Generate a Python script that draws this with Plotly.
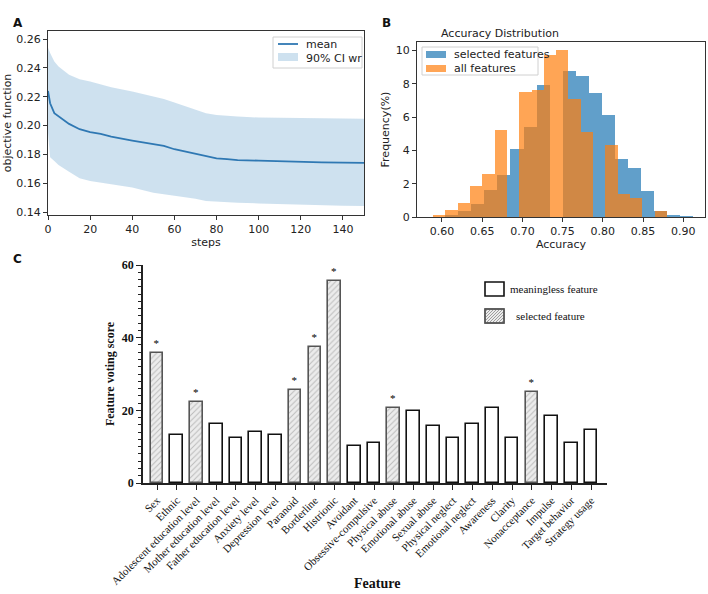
import plotly.graph_objects as go

# ---------- Panel A data ----------
steps = [0, 1, 3, 5, 10, 15, 20, 25, 30, 40, 50, 55, 60, 65, 70, 75, 80, 85, 90, 100, 110, 120, 130, 140, 150]
obj_mean = [0.224, 0.2155, 0.2086, 0.2063, 0.2012, 0.1975, 0.1954, 0.1942, 0.1924, 0.1896, 0.1873, 0.1859,
            0.1836, 0.1819, 0.1803, 0.1785, 0.1773, 0.1768, 0.1761, 0.1757, 0.1752, 0.1750, 0.1745, 0.1743, 0.1742]
ci_upper = [0.254, 0.2503, 0.2445, 0.241, 0.2352, 0.2322, 0.2306, 0.2285, 0.2266, 0.2236, 0.2202, 0.2185,
            0.216, 0.2135, 0.2109, 0.2086, 0.2074, 0.2068, 0.2063, 0.2056, 0.2053, 0.2051, 0.2050, 0.2049, 0.2048]
ci_lower = [0.195, 0.178, 0.1755, 0.1727, 0.168, 0.1634, 0.1615, 0.1604, 0.1592, 0.1571, 0.1535, 0.1525,
            0.1512, 0.1502, 0.1493, 0.1477, 0.1472, 0.1468, 0.1465, 0.146, 0.1455, 0.1451, 0.1447, 0.1444, 0.1443]

# ---------- Panel B data ----------
sel_start, sel_width = 0.588, 0.0162
sel_freq = [0.0, 0.1, 0.35, 0.8, 1.6, 2.5, 4.1, 5.4, 7.9, 0.0,
            8.75, 8.45, 7.45, 6.15, 3.5, 2.95, 1.55, 0.35, 0.15, 0.05]
all_start, all_width = 0.589, 0.0153
all_freq = [0.1, 0.4, 0.85, 1.85, 2.6, 5.25, 0.0, 7.5, 7.6, 9.75,
            10.0, 7.1, 5.1, 0.0, 4.35, 1.4, 1.15, 0.0, 0.35]

# ---------- Panel C data ----------
features = ["Sex", "Ethnic", "Adolescent education level", "Mother education level", "Father education level",
            "Anxiety level", "Depression level", "Paranoid", "Borderline", "Histrionic", "Avoidant",
            "Obsessive-compulsive", "Physical abuse", "Emotional abuse", "Sexual abuse", "Physical neglect",
            "Emotional neglect", "Awareness", "Clarity", "Nonacceptance", "Impulse", "Target behavior",
            "Strategy usage"]
scores = [35.9, 13.3, 22.3, 16.2, 12.4, 14.0, 13.1, 25.6, 37.4, 55.5, 10.3, 11.1, 20.7,
          19.8, 15.6, 12.5, 16.2, 20.6, 12.5, 25.1, 18.5, 11.1, 14.7]
selected = ["Sex", "Adolescent education level", "Paranoid", "Borderline", "Histrionic",
            "Physical abuse", "Nonacceptance"]

W, H = 708, 594
def px(x): return x / W
def py(y): return 1 - y / H

fig = go.Figure()

sans = "DejaVu Sans"
serif = "Liberation Serif"
txt = "#222222"
blue_a = "rgba(31,119,180,0.7)"
orange_a = "rgba(255,127,14,0.7)"
band = "rgba(31,119,180,0.22)"
meancol = "#2f78b3"

# Panel A
fig.add_trace(go.Scatter(x=steps, y=ci_upper, mode="lines", line=dict(width=0, color="rgba(0,0,0,0)"),
                         showlegend=False, hoverinfo="skip", xaxis="x", yaxis="y"))
fig.add_trace(go.Scatter(x=steps, y=ci_lower, mode="lines", line=dict(width=0, color="rgba(0,0,0,0)"),
                         fill="tonexty", fillcolor=band, name="90% CI wr", showlegend=False,
                         xaxis="x", yaxis="y"))
fig.add_trace(go.Scatter(x=steps, y=obj_mean, mode="lines", line=dict(width=1.8, color=meancol),
                         name="mean", showlegend=False, xaxis="x", yaxis="y"))

# Panel B
sel_x = [sel_start + sel_width * (i + 0.5) for i in range(len(sel_freq))]
all_x = [all_start + all_width * (i + 0.5) for i in range(len(all_freq))]
fig.add_trace(go.Bar(x=sel_x, y=sel_freq, width=sel_width, name="selected features",
                     marker=dict(color="#1f77b4", line=dict(width=0)), opacity=0.7,
                     showlegend=False, xaxis="x2", yaxis="y2"))
fig.add_trace(go.Bar(x=all_x, y=all_freq, width=all_width, name="all features",
                     marker=dict(color="#ff7f0e", line=dict(width=0)), opacity=0.7,
                     showlegend=False, xaxis="x2", yaxis="y2"))

# Panel C
mx = [f for f in features if f not in selected]
my = [s for f, s in zip(features, scores) if f not in selected]
sx = [f for f in features if f in selected]
sy = [s for f, s in zip(features, scores) if f in selected]
fig.add_trace(go.Bar(x=mx, y=my, width=0.64, name="meaningless feature",
                     marker=dict(color="white", line=dict(color="#111111", width=1.6)),
                     showlegend=False, xaxis="x3", yaxis="y3"))
fig.add_trace(go.Bar(x=sx, y=sy, width=0.64, name="selected feature",
                     marker=dict(color="#e6e6e6", line=dict(color="#555555", width=1.6),
                                 pattern=dict(shape="/", fgcolor="#8a8a8a", bgcolor="#ececec",
                                              size=4, solidity=0.25)),
                     text=["*"] * len(sx), textposition="outside", cliponaxis=False,
                     outsidetextfont=dict(family=serif, size=11, color="#000000"),
                     showlegend=False, xaxis="x3", yaxis="y3"))

axA = dict(showline=True, mirror=True, linecolor="#333", linewidth=1, ticks="outside", ticklen=4,
           tickcolor="#333", showgrid=False, zeroline=False, automargin=False,
           tickfont=dict(family=sans, size=11, color=txt))

# ---- manual legends (boxes / swatches in pixel space) ----
shapes = []
annots = []
def rect(x0, y0, x1, y1, **kw):
    shapes.append(dict(type="rect", xref="paper", yref="paper", x0=px(x0), x1=px(x1), y0=py(y1), y1=py(y0), **kw))
def label(x, y, text, font, xanchor="left"):
    annots.append(dict(text=text, x=px(x), y=py(y), xref="paper", yref="paper", showarrow=False,
                       xanchor=xanchor, yanchor="middle", font=font))

fA = dict(family=sans, size=11, color=txt)
# Legend A
rect(273, 37, 362, 68, line=dict(color="#d0d0d0", width=1), fillcolor="white")
shapes.append(dict(type="line", xref="paper", yref="paper", x0=px(278), x1=px(298), y0=py(44), y1=py(44),
                   line=dict(color=meancol, width=1.8)))
label(304, 44, "mean", fA)
rect(278, 53, 298, 61, line=dict(width=0), fillcolor=band)
label(304, 58, "90% CI wr", fA)
# Legend B
rect(422, 47, 538, 75, line=dict(color="#d0d0d0", width=1), fillcolor="white")
rect(426, 51, 446, 58, line=dict(width=0), fillcolor=blue_a)
label(452, 54, "selected features", fA)
rect(426, 65, 446, 72, line=dict(width=0), fillcolor=orange_a)
label(452, 68, "all features", fA)
# Legend C
fC = dict(family=serif, size=11, color="#111")
rect(485, 282, 504, 296, line=dict(color="#111", width=1.6), fillcolor="white")
label(508, 289, "meaningless feature", fC)
rect(485, 309, 504, 323, line=dict(color="#555", width=1.4), fillcolor="#ececec")
hatch = []
for k in range(-14, 20, 3):
    xa, ya = 485 + k, 323
    xb, yb = 485 + k + 14, 309
    if xa < 485:
        ya = 323 - (485 - xa); xa = 485
    if xb > 504:
        yb = 309 + (xb - 504); xb = 504
    if xa < xb:
        hatch.append(f"M{px(xa)},{py(ya)} L{px(xb)},{py(yb)}")
shapes.append(dict(type="path", xref="paper", yref="paper", path=" ".join(hatch),
                   line=dict(color="#8a8a8a", width=0.8)))
shapes.append(dict(type="rect", xref="paper", yref="paper", x0=px(485), x1=px(504), y0=py(323), y1=py(309),
                   line=dict(color="#555", width=1.4)))
label(514, 316, "selected feature", fC)

annots += [
    dict(text="<b>A</b>", x=px(11), y=py(14), xref="paper", yref="paper", showarrow=False,
         font=dict(family=sans, size=12, color="#111")),
    dict(text="<b>B</b>", x=px(386), y=py(14), xref="paper", yref="paper", showarrow=False,
         font=dict(family=sans, size=12, color="#111")),
    dict(text="<b>C</b>", x=px(11), y=py(259), xref="paper", yref="paper", showarrow=False,
         font=dict(family=sans, size=12, color="#111")),
    dict(text="Accuracy Distribution", x=(px(417) + px(705)) / 2, y=py(33), xref="paper", yref="paper",
         showarrow=False, yanchor="middle", font=dict(family=sans, size=11, color=txt)),
    dict(text="<b>Feature</b>", x=px(377), y=py(583), xref="paper", yref="paper", showarrow=False,
         yanchor="middle", font=dict(family=serif, size=14, color="#111")),
]

fig.update_layout(
    width=W, height=H, margin=dict(l=0, r=0, t=0, b=0, autoexpand=False),
    paper_bgcolor="white", plot_bgcolor="white", barmode="overlay", bargap=0,
    font=dict(family=sans, size=11, color=txt), showlegend=False,
    xaxis=dict(axA, domain=[px(48), px(364)], range=[0, 150], dtick=20, anchor="y",
               title=dict(text="steps", font=dict(family=sans, size=11, color=txt), standoff=2)),
    yaxis=dict(axA, domain=[py(215), py(31)], range=[0.138, 0.2656], dtick=0.02, tickformat=".2f",
               anchor="x", title=dict(text="objective function", font=dict(family=sans, size=11, color=txt),
                                      standoff=2)),
    xaxis2=dict(axA, domain=[px(417), px(705)], range=[0.569, 0.927], tick0=0.6, dtick=0.05,
                tickformat=".2f", anchor="y2",
                title=dict(text="Accuracy", font=dict(family=sans, size=11, color=txt), standoff=2)),
    yaxis2=dict(axA, domain=[py(217), py(42)], range=[0, 10.5], dtick=2, anchor="x2",
                title=dict(text="Frequency(%)", font=dict(family=sans, size=11, color=txt), standoff=3)),
    xaxis3=dict(domain=[px(143), px(607)], range=[-0.71, 22.81], type="category",
                categoryorder="array", categoryarray=features, anchor="y3", automargin=False,
                showline=True, linecolor="#222", linewidth=1.6, ticks="outside", ticklen=5,
                tickcolor="#222", tickwidth=1.2, tickangle=-45, showgrid=False,
                tickfont=dict(family=serif, size=11, color="#111")),
    yaxis3=dict(domain=[py(483), py(265)], range=[0, 60], dtick=20, anchor="x3", automargin=False,
                showline=True, linecolor="#222", linewidth=1.6, ticks="outside", ticklen=5,
                tickcolor="#222", tickwidth=1.2, showgrid=False, zeroline=False,
                minor=dict(dtick=2, ticks="outside", ticklen=3, tickcolor="#222", tickwidth=1),
                tickfont=dict(family=serif, size=12, color="#111", weight="bold"),
                title=dict(text="Feature voting score",
                           font=dict(family=serif, size=12, color="#111", weight="bold"), standoff=5)),
    shapes=shapes,
    annotations=annots,
)

fig.write_html("out.html", config={"displayModeBar": False},
               post_script="document.body.style.margin='0px';document.body.style.overflow='hidden';")
